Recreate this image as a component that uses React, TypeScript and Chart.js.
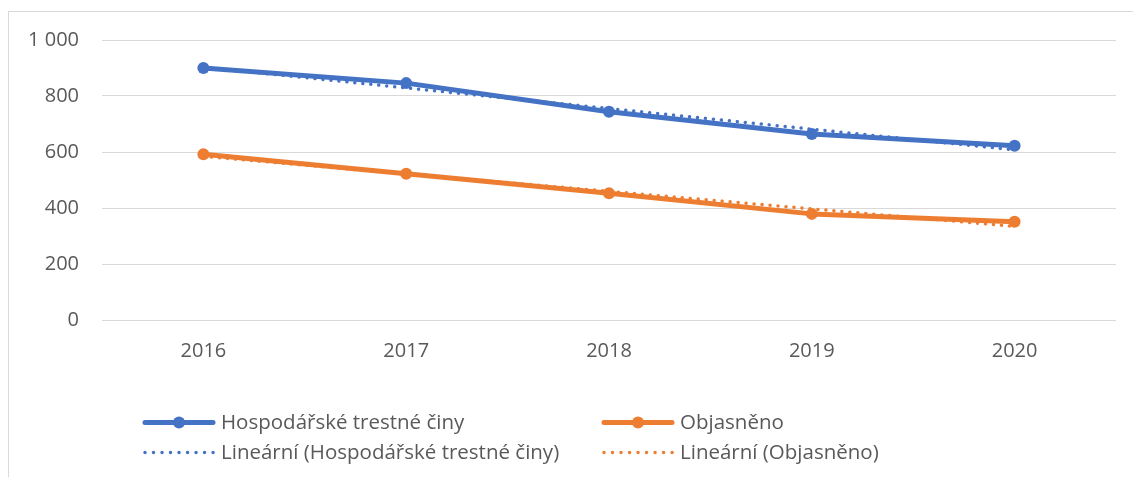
import React, { useEffect, useRef } from 'react';
import { Chart, registerables } from 'chart.js';

Chart.register(...registerables);

const years = ['2016', '2017', '2018', '2019', '2020'];
const hospodarske = [900, 846, 744, 664, 622];
const objasneno = [592, 522, 453, 379, 351];
const yTickValues = [0, 200, 400, 600, 800, 1000];
const yTickLabels = ['0', '200', '400', '600', '800', '1 000'];
const seriesNames = ['Hospodářské trestné činy', 'Objasněno'];
const trendNames = ['Lineární (Hospodářské trestné činy)', 'Lineární (Objasněno)'];

const BLUE = '#4472C4';
const ORANGE = '#ED7D31';
const TEXT = '#595959';
const GRID = '#D9D9D9';
const FONT = "'Open Sans', 'Noto Sans', sans-serif";

// least-squares linear trend of a series (like Excel's "Lineární" trendline)
function linearTrend(values: number[]): number[] {
  const n = values.length;
  const mx = (n - 1) / 2;
  const my = values.reduce((a, b) => a + b, 0) / n;
  let num = 0;
  let den = 0;
  values.forEach((v, i) => {
    num += (i - mx) * (v - my);
    den += (i - mx) * (i - mx);
  });
  const slope = num / den;
  return values.map((_, i) => my + slope * (i - mx));
}

const legendPlugin = {
  id: 'excelLegend',
  afterDraw(chart: any) {
    const ctx = chart.ctx as CanvasRenderingContext2D;
    const items = [
      { label: seriesNames[0], color: BLUE, dotted: false, x: 134, y: 410.5 },
      { label: seriesNames[1], color: ORANGE, dotted: false, x: 593, y: 410.5 },
      { label: trendNames[0], color: BLUE, dotted: true, x: 134, y: 440.5 },
      { label: trendNames[1], color: ORANGE, dotted: true, x: 593, y: 440.5 },
    ];
    ctx.save();
    items.forEach((it) => {
      const x0 = it.x;
      const x1 = it.x + 72;
      ctx.strokeStyle = it.color;
      ctx.fillStyle = it.color;
      if (it.dotted) {
        ctx.lineWidth = 3.5;
        ctx.lineCap = 'round';
        ctx.setLineDash([0.01, 8.5]);
        ctx.beginPath();
        ctx.moveTo(x0 + 2, it.y);
        ctx.lineTo(x1, it.y);
        ctx.stroke();
        ctx.setLineDash([]);
      } else {
        ctx.lineWidth = 5;
        ctx.lineCap = 'round';
        ctx.beginPath();
        ctx.moveTo(x0 + 2, it.y);
        ctx.lineTo(x1 - 2, it.y);
        ctx.stroke();
        ctx.beginPath();
        ctx.arc((x0 + x1) / 2, it.y, 6, 0, Math.PI * 2);
        ctx.fill();
      }
      ctx.fillStyle = TEXT;
      ctx.font = `20.5px ${FONT}`;
      ctx.textAlign = 'left';
      ctx.textBaseline = 'alphabetic';
      ctx.fillText(it.label, x1 + 6, it.y + 6);
    });
    ctx.restore();
  },
};

export default function App() {
  const canvasRef = useRef<HTMLCanvasElement | null>(null);

  useEffect(() => {
    document.documentElement.style.overflow = 'hidden';
    const canvas = canvasRef.current;
    if (!canvas) return;
    const chart = new Chart(canvas, {
      type: 'line',
      data: {
        labels: years,
        datasets: [
          {
            label: trendNames[0],
            data: linearTrend(hospodarske),
            borderColor: BLUE,
            borderWidth: 3.5,
            borderDash: [0.01, 8],
            borderCapStyle: 'round',
            pointRadius: 0,
            fill: false,
            order: 0,
          },
          {
            label: trendNames[1],
            data: linearTrend(objasneno),
            borderColor: ORANGE,
            borderWidth: 3.5,
            borderDash: [0.01, 8],
            borderCapStyle: 'round',
            pointRadius: 0,
            fill: false,
            order: 1,
          },
          {
            label: seriesNames[0],
            data: hospodarske,
            borderColor: BLUE,
            backgroundColor: BLUE,
            borderWidth: 5,
            borderJoinStyle: 'round',
            borderCapStyle: 'round',
            pointRadius: 6,
            pointBackgroundColor: BLUE,
            pointBorderWidth: 0,
            fill: false,
            order: 2,
          },
          {
            label: seriesNames[1],
            data: objasneno,
            borderColor: ORANGE,
            backgroundColor: ORANGE,
            borderWidth: 5,
            borderJoinStyle: 'round',
            borderCapStyle: 'round',
            pointRadius: 6,
            pointBackgroundColor: ORANGE,
            pointBorderWidth: 0,
            fill: false,
            order: 3,
          },
        ],
      } as any,
      options: {
        responsive: false,
        animation: false,
        events: [],
        layout: { padding: { left: 0, right: 17, top: 28, bottom: 0 } },
        plugins: {
          legend: { display: false },
          tooltip: { enabled: false },
          title: { display: false },
        },
        scales: {
          x: {
            offset: true,
            grid: { display: false, drawTicks: false },
            border: { display: false },
            ticks: {
              color: TEXT,
              font: { family: FONT, size: 20 },
              padding: 19,
              maxRotation: 0,
            },
            afterFit: (scale: any) => {
              scale.height = 157;
            },
          },
          y: {
            min: 0,
            max: 1000,
            grid: {
              color: GRID,
              lineWidth: 1,
              drawTicks: true,
              tickLength: 23,
              tickColor: 'rgba(0,0,0,0)',
            },
            border: { display: false },
            afterBuildTicks: (scale: any) => {
              scale.ticks = yTickValues.map((v) => ({ value: v }));
            },
            ticks: {
              color: TEXT,
              font: { family: FONT, size: 20 },
              padding: 0,
              callback: (value: any) => {
                const i = yTickValues.indexOf(Number(value));
                return i >= 0 ? yTickLabels[i] : '';
              },
            },
            afterFit: (scale: any) => {
              scale.width = 93;
            },
          },
        },
      } as any,
      plugins: [legendPlugin],
    });
    return () => chart.destroy();
  }, []);

  return (
    <div
      style={{
        position: 'absolute',
        left: 8,
        top: 11,
        width: 1125,
        height: 466,
        boxSizing: 'border-box',
        borderLeft: `1px solid ${GRID}`,
        borderTop: `1px solid ${GRID}`,
        background: '#fff',
      }}
    >
      <canvas
        ref={canvasRef}
        width={1124}
        height={465}
        style={{ width: 1124, height: 465, display: 'block' }}
      />
    </div>
  );
}
